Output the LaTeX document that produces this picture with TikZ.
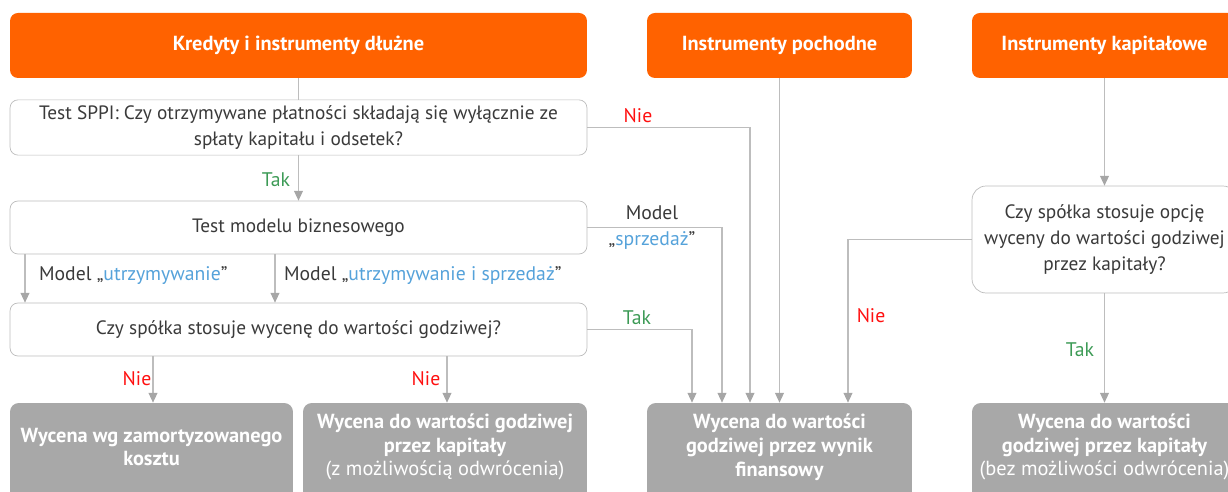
\documentclass[tikz,border=0pt]{standalone}
\usepackage{fontspec}
\setmainfont{PT Sans}
\usetikzlibrary{arrows.meta,backgrounds}
\definecolor{ingorange}{HTML}{FF6200}
\definecolor{boxgray}{HTML}{A8A8A8}
\definecolor{linegray}{HTML}{BDBDBD}
\definecolor{tipgray}{HTML}{A6A6A6}
\definecolor{txtdark}{HTML}{3A3A3A}
\definecolor{tblue}{HTML}{55A2DA}
\definecolor{tgreen}{HTML}{3C9A55}
\definecolor{nred}{HTML}{FF1010}
\begin{document}
\begin{tikzpicture}[x=0.02cm,y=-0.02cm,
  head/.style={shape=rectangle,rounded corners=4.5pt,fill=ingorange,text=white,font=\bfseries\fontsize{11.6}{13}\selectfont,minimum height=1.3cm},
  quest/.style={shape=rectangle,rounded corners=4.5pt,draw=linegray,fill=white,text=txtdark,align=center,font=\fontsize{11}{14.6}\selectfont,minimum width=11.54cm,minimum height=1.06cm},
  result/.style={shape=rectangle,rounded corners=5pt,fill=boxgray,text=white,align=center,font=\bfseries\fontsize{11.6}{13.6}\selectfont,minimum height=1.76cm},
  lbl/.style={text=txtdark,font=\fontsize{11.2}{12}\selectfont,inner sep=1pt},
  link/.style={draw=linegray,line width=0.6pt},
  flow/.style={link,-{Triangle[width=5pt,length=5.5pt,color=tipgray]}}]
\useasboundingbox (0,0) rectangle (1228,492);

% column headers
\node[head,minimum width=11.54cm] (kred) at (298.5,45.5) {Kredyty i instrumenty dłużne};
\node[head,minimum width=5.3cm] (poch) at (779.5,45.5) {Instrumenty pochodne};
\node[head,minimum width=5.3cm] (kap) at (1104.5,45.5) {Instrumenty kapitałowe};

% questions
\node[quest,minimum height=1.1cm] (sppi) at (298.5,127.5) {Test SPPI: Czy otrzymywane płatności składają się wyłącznie ze\\spłaty kapitału i odsetek?};
\node[quest] (model) at (298.5,227.5) {Test modelu biznesowego};
\node[quest] (godz) at (298.5,329.5) {Czy spółka stosuje wycenę do wartości godziwej?};
\node[quest,rounded corners=8pt,minimum width=5.3cm,minimum height=2.14cm] (opcja) at (1104.5,239.5) {Czy spółka stosuje opcję\\wyceny do wartości godziwej\\przez kapitały?};

% results
\node[result,minimum width=5.66cm] (amort) at (151.5,447) {Wycena wg zamortyzowanego\\kosztu};
\node[result,minimum width=5.68cm] (kapz) at (445,447) {Wycena do wartości godziwej\\przez kapitały\\\mdseries(z możliwością odwrócenia)};
\node[result,minimum width=5.3cm] (wynik) at (779.5,447) {Wycena do wartości\\godziwej przez wynik\\finansowy};
\node[result,minimum width=5.3cm] (kapbez) at (1104.5,447) {Wycena do wartości\\godziwej przez kapitały\\\mdseries(bez możliwości odwrócenia)};
\begin{scope}[on background layer]
\foreach \b in {amort,kapz,wynik,kapbez}
  \fill[boxgray] (\b.west) rectangle ([yshift=-0.4cm]\b.south east);
\end{scope}

% connectors
\draw[link] (kred) -- (sppi);
\draw[flow] (sppi) -- (model);
\draw[flow] (sppi.east) -| (750,0 |- wynik.north);
\draw[flow] (model.east) -| (722,0 |- wynik.north);
\draw[flow] (25,0 |- model.south) -- (25,0 |- godz.north);
\draw[flow] (275,0 |- model.south) -- (275,0 |- godz.north);
\draw[flow] (godz.east) -| (692,0 |- wynik.north);
\draw[flow] (153,0 |- godz.south) -- (153,0 |- amort.north);
\draw[flow] (447,0 |- godz.south) -- (447,0 |- kapz.north);
\draw[flow] (poch) -- (wynik);
\draw[flow] (kap) -- (opcja);
\draw[flow] (opcja.west) -| (848,0 |- wynik.north);
\draw[flow] (opcja) -- (kapbez);

% labels
\node[lbl,text=tgreen] (tak1) at (276,180) {Tak};
\node[lbl,text=nred] (nie1) at (638,116) {Nie};
\node[lbl] (msp) at (652,213) {Model};
\node[lbl] (msp2) at (652,241) {„\textcolor{tblue}{sprzedaż}”};
\node[lbl,anchor=west] (mutrz) at (37,276) {Model „\textcolor{tblue}{utrzymywanie}”};
\node[lbl,anchor=west] (mus) at (282,276) {Model „\textcolor{tblue}{utrzymywanie i sprzedaż}”};
\node[lbl,text=tgreen] (tak2) at (637,318) {Tak};
\node[lbl,text=nred] (nie2) at (137,379) {Nie};
\node[lbl,text=nred] (nie3) at (426,379) {Nie};
\node[lbl,text=nred] (nie4) at (871,316) {Nie};
\node[lbl,text=tgreen] (tak3) at (1080,350) {Tak};
\end{tikzpicture}
\end{document}
